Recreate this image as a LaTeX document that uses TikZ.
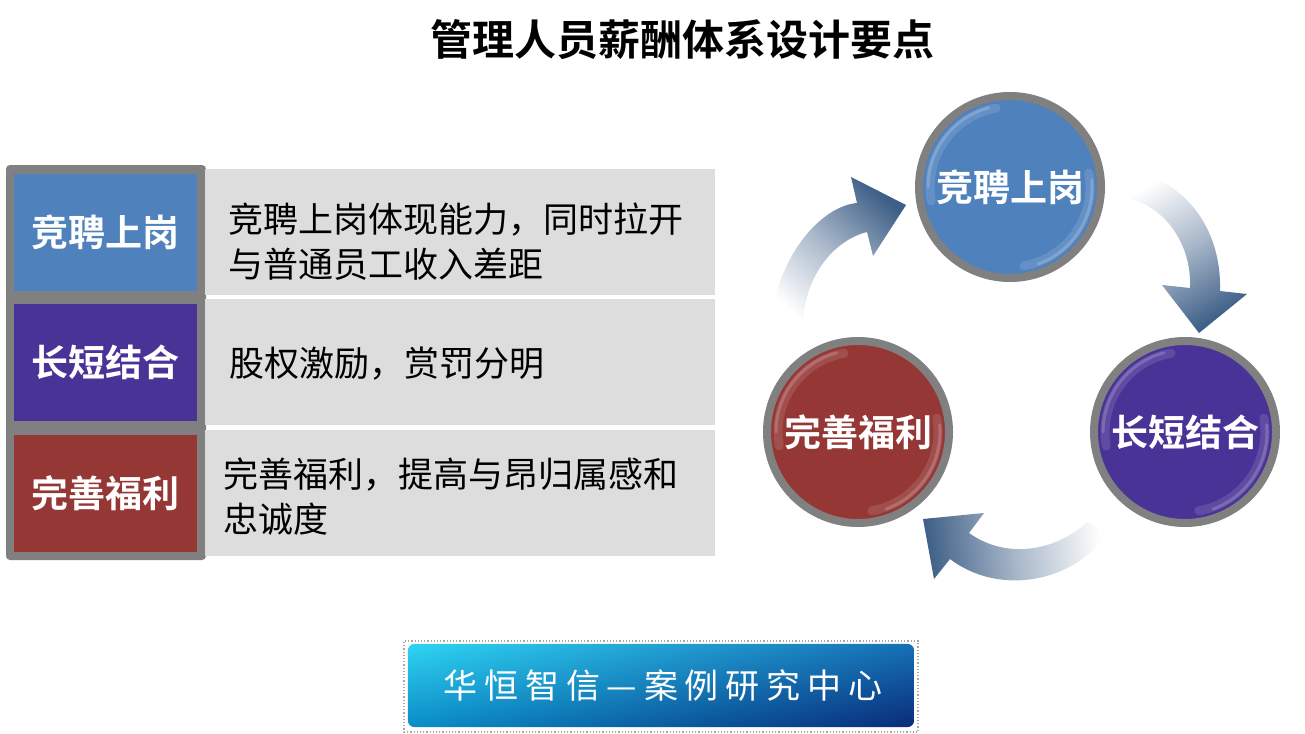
\documentclass[tikz,border=0pt]{standalone}
\usepackage{fontspec}
\usetikzlibrary{shadings}
\setmainfont{Noto Sans CJK SC}[BoldFont={Noto Sans CJK SC Bold}]
\newfontfamily\bannerfont{Noto Sans CJK SC}[LetterSpace=20]
\definecolor{cblue}{HTML}{4F81BD}
\definecolor{cpurple}{HTML}{4A3397}
\definecolor{cred}{HTML}{953735}
\definecolor{cgray}{HTML}{808080}
\definecolor{lgray}{HTML}{DDDDDD}
\definecolor{arr}{HTML}{3E5F87}
\definecolor{banUL}{HTML}{2FD4F2}
\definecolor{banUR}{HTML}{1570B6}
\definecolor{banLL}{HTML}{0A8CC8}
\definecolor{banLR}{HTML}{0A2B78}
\begin{document}
\begin{tikzpicture}[x=1pt,y=-1pt,
  colbox/.style={rectangle, inner sep=0, minimum width=183, minimum height=117, text=white,
    font=\fontsize{37}{40}\selectfont\bfseries},
  rowbox/.style={rectangle, fill=lgray, inner sep=0, minimum width=510, minimum height=126},
  rowtext/.style={anchor=west, inner sep=0, align=left, text=black,
    font=\fontsize{35}{45}\selectfont},
  ball/.style={circle, draw=cgray, line width=8, minimum size=182, inner sep=0, text=white,
    font=\fontsize{37}{40}\selectfont\bfseries},
  glosswide/.style={white, opacity=0.12, line width=9, line cap=round},
  gloss/.style={white, opacity=0.18, line width=3, line cap=round},
  arrowshape/.style={draw=none}
]
\useasboundingbox (0,0) rectangle (1305,733);
\fill[white] (0,0) rectangle (1305,733);

% title
\node[font=\fontsize{42}{46}\selectfont\bfseries] (title) at (682,40) {管理人员薪酬体系设计要点};

% left table
\node[rectangle, fill=cgray, rounded corners=4, minimum width=200, minimum height=395, inner sep=0] (frame) at (106,362.5) {};
\node[rowbox] (r1) at (460,232) {};
\node[rowbox] (r2) at (460,362) {};
\node[rowbox] (r3) at (460,493) {};
\node[colbox, fill=cblue] (b1) at (105.5,232.5) {竞聘上岗};
\node[colbox, fill=cpurple] (b2) at (105.5,362.5) {长短结合};
\node[colbox, fill=cred] (b3) at (105.5,493.5) {完善福利};
\node[rowtext] (t1) at (228,242) {竞聘上岗体现能力，同时拉开\\与普通员工收入差距};
\node[rowtext] (t2) at (229,364) {股权激励，赏罚分明};
\node[rowtext] (t3) at (223,497) {完善福利，提高与昂归属感和\\忠诚度};

% curved arrows
\shade[arrowshape, top color=arr, bottom color=white, middle color=arr!45, shading angle=-42]
  (772,333) .. controls (770,270) and (815,207) .. (857,203) -- (851,177) -- (906,205)
  -- (873,256) -- (867,232) .. controls (835,240) and (803,275) .. (803,328) -- cycle;
\shade[arrowshape, top color=arr, bottom color=white, middle color=arr!45, shading angle=-149]
  (1118,170) .. controls (1175,172) and (1222,220) .. (1220,291) -- (1247,294) -- (1199,333)
  -- (1162,285) -- (1190,288) .. controls (1192,240) and (1160,200) .. (1118,197) -- cycle;
\shade[arrowshape, top color=arr, bottom color=white, middle color=arr!45, shading angle=96]
  (1087,522) .. controls (1060,548) and (1010,562) .. (969,533) -- (984,513) -- (923,519)
  -- (934,579) -- (950,559) .. controls (1000,597) and (1075,582) .. (1107,533) -- cycle;

% circles
\node[ball, fill=cblue] (c1) at (1010,187) {竞聘上岗};
\node[ball, fill=cpurple] (c2) at (1185,432) {长短结合};
\node[ball, fill=cred] (c3) at (858,432) {完善福利};
\foreach \c in {c1,c2,c3}{
  \draw[glosswide] ([shift={(-10:80)}]\c.center) arc[start angle=-10, end angle=80, radius=80];
  \draw[gloss] ([shift={(-5:82)}]\c.center) arc[start angle=-5, end angle=70, radius=82];
  \draw[glosswide] ([shift={(170:80)}]\c.center) arc[start angle=170, end angle=260, radius=80];
  \draw[gloss] ([shift={(180:82)}]\c.center) arc[start angle=180, end angle=255, radius=82];
}

% banner
\node[draw=gray!70, dotted, line width=1.2, minimum width=514, minimum height=91, inner sep=0] (banframe) at (661,686.5) {};
\node[rectangle, minimum width=506, minimum height=83, inner sep=0] (ban) at (661,685.5) {};
\shade[rounded corners=7, upper left=banUL, upper right=banUR, lower left=banLL, lower right=banLR]
  (ban.south west) rectangle (ban.north east);
\node[text=white, font=\bannerfont\fontsize{34}{38}\selectfont] (bantext) at (663,686) {华恒智信—案例研究中心};
\end{tikzpicture}
\end{document}
